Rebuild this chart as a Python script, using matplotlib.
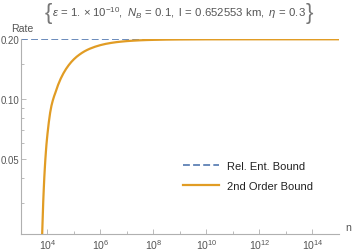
import numpy as np
import matplotlib
matplotlib.use('Agg')
import matplotlib.pyplot as plt
from matplotlib.ticker import FixedLocator, NullFormatter

plt.rcParams['font.family'] = ['Liberation Sans', 'DejaVu Sans']
plt.rcParams['mathtext.fontset'] = 'custom'
plt.rcParams['mathtext.rm'] = 'Liberation Sans'
plt.rcParams['mathtext.it'] = 'Liberation Sans:italic'

# values (log10 n, rate)
log_n = [3.80, 3.82, 3.84, 3.86, 3.88, 3.90, 3.92, 3.94, 3.96, 3.98, 4.00, 4.05,
         4.10, 4.15, 4.20, 4.25, 4.30, 4.40, 4.50, 4.60, 4.70, 4.80, 4.90, 5.00,
         5.10, 5.20, 5.30, 5.40, 5.50, 5.60, 5.80, 6.00, 6.20, 6.40, 6.60, 6.80,
         7.00, 7.25, 7.50, 7.75, 8.00, 8.50, 9.00, 10.0, 11.0, 12.0, 13.0, 14.0,
         15.0]
rate_2nd = [0.0212, 0.0255, 0.0307, 0.0355, 0.0405, 0.0452, 0.0500, 0.0545,
            0.0590, 0.0630, 0.0670, 0.0766, 0.0855, 0.0928, 0.0985, 0.1035,
            0.1080, 0.1180, 0.1269, 0.1348, 0.1419, 0.1482, 0.1539, 0.1589,
            0.1634, 0.1673, 0.1709, 0.1741, 0.1769, 0.1794, 0.1836, 0.1870,
            0.1897, 0.1918, 0.1935, 0.1948, 0.1959, 0.1969, 0.1977, 0.1983,
            0.1987, 0.1993, 0.1996, 0.1999, 0.19995, 0.2, 0.2, 0.2, 0.2]
rel_ent = 0.2

n = 10.0 ** np.array(log_n)

fig = plt.figure(figsize=(3.53, 2.53), dpi=100)
ax = fig.add_axes([0.0595, 0.0711, 0.9005, 0.771])

blue = '#5E81B5'
orange = '#E19C24'
gray = '#b0b0b0'
txt = '#555555'

ax.plot([1e3, 1e15], [rel_ent, rel_ent], color=blue, lw=1.3, ls=(0, (3.8, 1.8)),
        label='Rel. Ent. Bound', zorder=2)
ax.plot(n, rate_2nd, color=orange, lw=1.6, label='2nd Order Bound', zorder=3)

ax.set_xscale('log')
ax.set_yscale('log')
ax.set_xlim(1e3, 1e15)
ax.set_ylim(0.021, 0.2008)

ax.xaxis.set_major_locator(FixedLocator([1e4, 1e6, 1e8, 1e10, 1e12, 1e14]))
ax.xaxis.set_minor_locator(FixedLocator([1e5, 1e7, 1e9, 1e11, 1e13]))
ax.xaxis.set_minor_formatter(NullFormatter())
ax.yaxis.set_major_locator(FixedLocator([0.05, 0.1, 0.2]))
ax.yaxis.set_minor_locator(FixedLocator([0.03, 0.04, 0.06, 0.07, 0.08, 0.09, 0.15]))
ax.yaxis.set_minor_formatter(NullFormatter())
ax.set_yticklabels(['0.05', '0.10', '0.20'])

for s in ['top', 'right']:
    ax.spines[s].set_visible(False)
for s in ['left', 'bottom']:
    ax.spines[s].set_color(gray)
    ax.spines[s].set_linewidth(0.8)

ax.tick_params(which='both', direction='in', color=gray, labelcolor=txt,
               width=0.6)
ax.tick_params(axis='x', labelsize=7.6, pad=2)
ax.tick_params(axis='y', labelsize=6.9, pad=1.2)
ax.tick_params(which='major', length=3.5)
ax.tick_params(which='minor', length=2)

ax.text(-0.03, 1.03, 'Rate', transform=ax.transAxes, fontsize=7.6, color=txt,
        ha='left', va='bottom')
ax.text(1.02, 0.01, 'n', transform=ax.transAxes, fontsize=7.6, color=txt,
        ha='left', va='bottom')

fig.text(0.506, 0.948,
         r'$\varepsilon\,=\,1.\times10^{-10},\ N_B\,=\,0.1,\ \mathrm{l}\,=\,0.652553\ \mathrm{km},\ \eta\,=\,0.3$',
         ha='center', va='center', fontsize=8.2, color=txt)
fig.text(0.138, 0.945, '{', ha='center', va='center', fontsize=16, color='#777777')
fig.text(0.876, 0.945, '}', ha='center', va='center', fontsize=16, color='#777777')

leg = ax.legend(loc='upper left', bbox_to_anchor=(0.509, 0.375), frameon=False,
                fontsize=8, handlelength=3.3, handletextpad=0.7, labelspacing=0.9,
                borderpad=0, borderaxespad=0)
for t in leg.get_texts():
    t.set_color('#222222')

fig.savefig('out.png', dpi=100)
